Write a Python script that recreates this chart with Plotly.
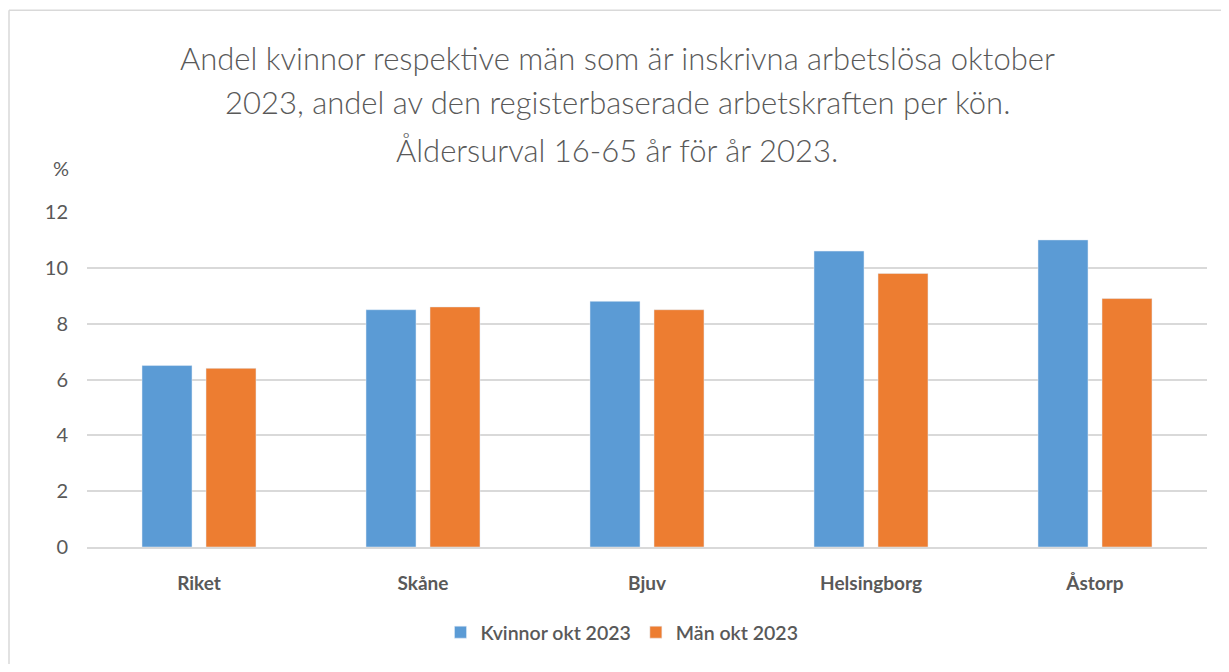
import plotly.graph_objects as go

categories = ["Riket", "Skåne", "Bjuv", "Helsingborg", "Åstorp"]
kvinnor = [6.5, 8.5, 8.8, 10.6, 11.0]
man = [6.4, 8.6, 8.5, 9.8, 8.9]
series_names = ["Kvinnor okt 2023", "Män okt 2023"]
title_lines = [
    "Andel kvinnor respektive män som är inskrivna arbetslösa oktober",
    "2023, andel av den registerbaserade arbetskraften per kön.",
    "Åldersurval 16-65 år för år 2023.",
]
y_ticks = [0, 2, 4, 6, 8, 10, 12]

OFF = 8  # page body margin
W, H = 1229 - 2 * OFF, 672 - 2 * OFF
# page coordinates of plot area
PL, PR, PT, PB = 87, 1207, 212, 549
L, T = PL - OFF, PT - OFF
R = W - (PR - OFF)
B = H - (PB - OFF)
pw, ph = W - L - R, H - T - B

def px(x):  # page x -> paper
    return (x - PL) / pw

def py(y):  # page y -> paper
    return (PB - y) / ph

grey = "#595959"
font_family = "Lato, Roboto, sans-serif"

fig = go.Figure()
fig.add_trace(go.Bar(x=categories, y=kvinnor, name=series_names[0], marker=dict(color="#5B9BD5")))
fig.add_trace(go.Bar(x=categories, y=man, name=series_names[1], marker=dict(color="#ED7D31")))

annotations = []
for txt, yy in zip(title_lines, [57, 101, 150]):
    annotations.append(dict(text=txt, xref="paper", yref="paper", x=px(617), y=py(yy),
                            xanchor="center", yanchor="middle", showarrow=False,
                            font=dict(family=font_family, size=31, color=grey, weight=300)))
annotations.append(dict(text="%", xref="paper", yref="paper", x=px(71), y=py(168),
                        xanchor="right", yanchor="middle", showarrow=False,
                        font=dict(family=font_family, size=20, color=grey)))

fig.update_layout(
    width=W, height=H,
    margin=dict(l=L, r=R, t=T, b=B),
    paper_bgcolor="white", plot_bgcolor="white",
    barmode="group", bargap=0.4286, bargroupgap=0.219,
    annotations=annotations,
    showlegend=True,
    legend=dict(orientation="h", x=px(622), y=py(635), xanchor="center", yanchor="middle",
                font=dict(family=font_family, size=19.5, color=grey, weight=600),
                itemwidth=30, tracegroupgap=0),
    xaxis=dict(showgrid=False, showline=True, linecolor="#d9d9d9", linewidth=1.5,
               tickfont=dict(family=font_family, size=19, color=grey, weight="bold"),
               ticks="", ticklabelstandoff=18),
    yaxis=dict(range=[0, 12], tickvals=y_ticks, showgrid=True, gridcolor="#d9d9d9", gridwidth=1.5,
               zeroline=False, showline=False, ticks="",
               tickfont=dict(family=font_family, size=20, color=grey),
               ticklabelstandoff=18),
    shapes=[
        dict(type="line", xref="paper", yref="paper", x0=px(9), x1=px(1240), y0=py(9), y1=py(9),
             line=dict(color="#d9d9d9", width=1.5)),
        dict(type="line", xref="paper", yref="paper", x0=px(9), x1=px(9), y0=py(9), y1=py(680),
             line=dict(color="#d9d9d9", width=1.5)),
    ],
)

fig.write_html("out.html")
